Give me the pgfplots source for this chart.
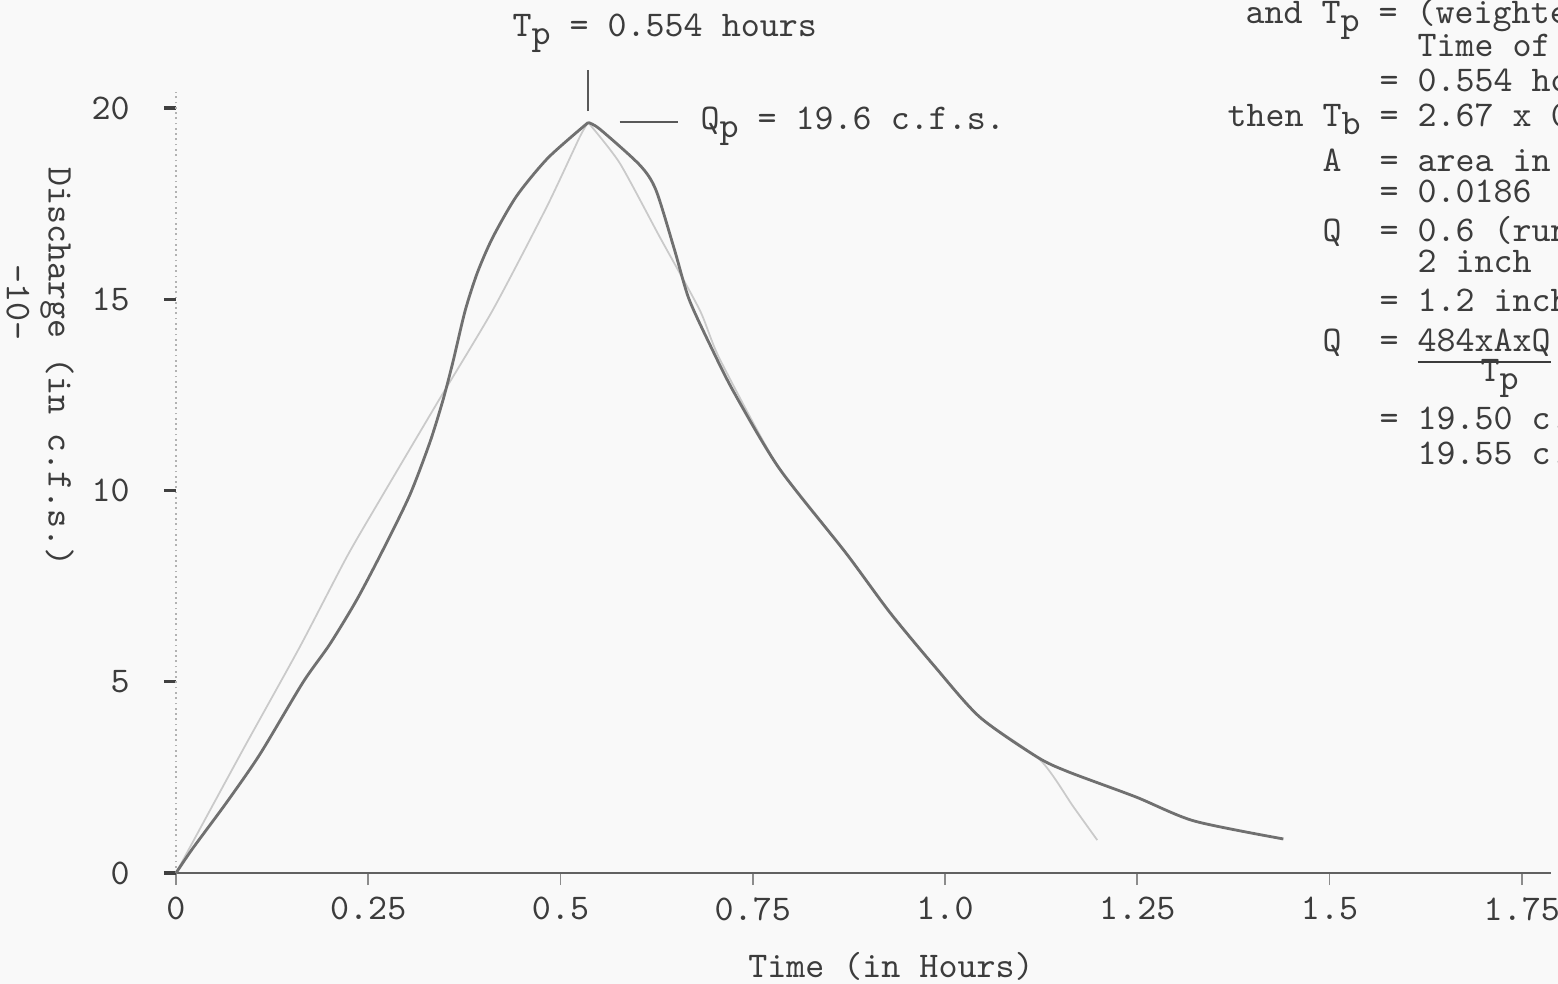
\documentclass[border=0pt]{standalone}
\usepackage{pgfplots}
\pgfplotsset{compat=1.18}
\definecolor{ink}{HTML}{3C3C3C}
\definecolor{curve}{HTML}{707070}
\definecolor{faint}{HTML}{CACACA}
\definecolor{paper}{HTML}{F9F9F9}
\newcommand{\tw}{\fontsize{10.3}{12}\selectfont\ttfamily}
\newcommand{\sub}[1]{\raisebox{-0.45ex}{#1}}
\begin{document}
\begin{tikzpicture}
\fill[paper] (-1.76,-1.11) rectangle (13.82,8.73);
\begin{axis}[
  at={(0,0)}, anchor=south west, scale only axis,
  x=7.69cm, y=0.3825cm,
  xmin=0, xmax=1.788, ymin=0, ymax=20.42,
  axis lines*=left,
  x axis line style={color=black!62, line width=0.8pt},
  y axis line style={color=black!30, densely dotted, line width=0.5pt},
  xtick={0,0.25,0.5,0.75,1,1.25,1.5,1.75},
  xticklabels={0,0.25,0.5,0.75,1.0,1.25,1.5,1.75},
  ytick={0,5,10,15,20},
  yticklabels={0,5,10,15,20},
  tick align=outside,
  x tick style={color=black!45, line width=0.5pt},
  y tick style={color=black!75, line width=0.9pt},
  major tick length=0.12cm,
  ticklabel style={font=\tw, text=ink},
  yticklabel style={xshift=-0.22cm},
  xlabel={Time (in Hours)},
  ylabel={Discharge (in c.f.s.)},
  label style={font=\tw, text=ink},
  xlabel style={at={(axis description cs:0.52,-0.12)}, anchor=center},
  ylabel style={at={(axis description cs:-0.0865,0.648)}, anchor=center, rotate=180},
  clip=false,
]
% faint pencilled curve
\addplot[faint, line width=0.5pt, smooth, tension=0.4] coordinates {
  (0,0) (0.087,3.22) (0.161,5.91) (0.222,8.26) (0.265,9.75) (0.340,12.30)
  (0.412,14.72) (0.482,17.41) (0.525,19.24) (0.536,19.62)
};
\addplot[faint, line width=0.5pt, smooth, tension=0.4] coordinates {
  (0.536,19.62) (0.577,18.56) (0.629,16.63) (0.681,14.72) (0.707,13.44)
  (0.784,10.59) (0.871,8.37) (0.928,6.82) (0.987,5.39) (1.045,4.08)
  (1.124,2.95) (1.167,1.73) (1.198,0.86)
};
% main hydrograph: rising limb
\addplot[curve, line width=0.8pt, smooth, tension=0.45] coordinates {
  (0,0) (0.022,0.65) (0.066,1.85) (0.109,3.10) (0.165,4.98)
  (0.200,5.98) (0.235,7.14) (0.269,8.44) (0.304,9.88) (0.330,11.25)
  (0.347,12.35) (0.360,13.35) (0.376,14.70) (0.392,15.70) (0.412,16.62)
  (0.443,17.70) (0.484,18.70) (0.536,19.62)
};
% main hydrograph: recession limb
\addplot[curve, line width=0.8pt, smooth, tension=0.45] coordinates {
  (0.536,19.62) (0.551,19.45) (0.603,18.51) (0.624,17.86) (0.648,16.31)
  (0.667,15.01) (0.697,13.70) (0.726,12.55) (0.784,10.59) (0.871,8.37)
  (0.928,6.82) (0.987,5.39) (1.045,4.08) (1.120,3.03) (1.161,2.64)
  (1.248,1.99) (1.324,1.36) (1.440,0.89)
};
\draw[ink!85, line width=0.5pt] (axis cs:0.536,19.92) -- (axis cs:0.536,21.0);
\draw[ink!85, line width=0.6pt] (axis cs:0.577,19.63) -- (axis cs:0.653,19.63);
\end{axis}
% page number
\node[font=\tw, text=ink, rotate=-90] at (-1.58,5.70) {-10-};
% peak annotations
\node[anchor=base west, inner sep=0, font=\tw, text=ink] at (3.36,8.36) {T\sub{p} = 0.554 hours};
\node[anchor=base west, inner sep=0, font=\tw, text=ink] at (5.24,7.43) {Q\sub{p} = 19.6 c.f.s.};
% computation block (cut by the page edge, as in the original page)
\begin{scope}[every node/.style={anchor=base west, inner sep=0, font=\tw, text=ink}]
\node at (10.69,8.49) {and T\sub{p} = (weighted};
\node at (12.41,8.16) {Time of};
\node at (12.03,7.81) {= 0.554 hours};
\node at (10.51,7.46) {then T\sub{b} = 2.67 x 0.554};
\node at (11.46,7.01) {A\ \ = area in};
\node at (12.03,6.70) {= 0.0186};
\node at (11.46,6.31) {Q\ \ = 0.6 (run};
\node at (12.41,6.00) {2 inch};
\node at (12.03,5.61) {= 1.2 inch};
\node at (11.46,5.21) {Q\ \ = \underline{484xAxQ}};
\node at (13.04,4.91) {T\sub{p}};
\node at (12.03,4.43) {= 19.50 c.};
\node at (12.41,4.08) {19.55 c.};
\end{scope}
\pgfresetboundingbox
\useasboundingbox (-1.76,-1.11) rectangle (13.82,8.73);
\end{tikzpicture}
\end{document}
